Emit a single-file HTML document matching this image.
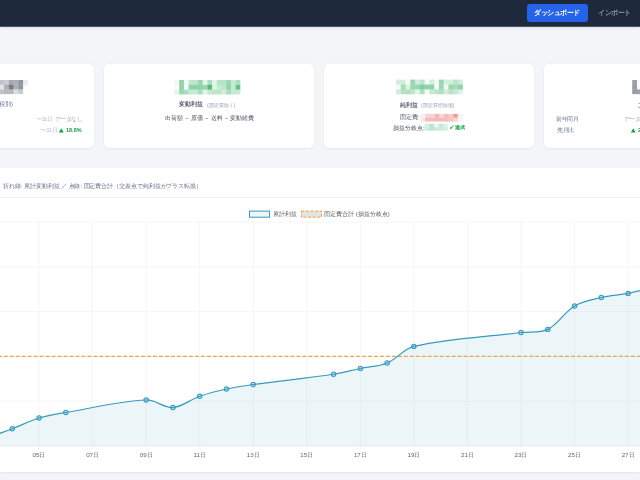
<!DOCTYPE html>
<html lang="ja"><head><meta charset="utf-8">
<style>
*{box-sizing:border-box;margin:0;padding:0}
html,body{width:640px;height:480px;overflow:hidden}
body{background:#f4f5f9;font-family:"Liberation Sans",sans-serif;position:relative;color:#475569}
.a{position:absolute;white-space:nowrap;line-height:1;will-change:transform}
#hdr{position:absolute;left:0;top:0;width:640px;height:26px;background:#1e293b;box-shadow:0 1px 0 rgba(30,41,59,.75),0 2px 2px rgba(15,23,42,.10)}
#btn{position:absolute;left:527px;top:4px;width:61px;height:18px;background:#2563eb;border-radius:3px}
.card{position:absolute;top:63.5px;width:210px;height:84px;background:#fff;border-radius:5px;box-shadow:0 .5px 2px rgba(15,23,42,.07)}
.sep{font-weight:normal;margin:0 2.3px}
.tri{position:absolute;width:0;height:0;border-left:2.45px solid transparent;border-right:2.45px solid transparent;border-bottom:4.4px solid #16a34a}
#chart{position:absolute;left:0;top:167.5px;width:640px;border-radius:0 !important;height:304.5px;background:#fff;border-radius:5px;box-shadow:0 .5px 2px rgba(15,23,42,.07)}
#cdiv{position:absolute;left:0;top:197px;width:640px;height:1px;background:#eef0f4}
svg{position:absolute;left:0;top:0}
#root{position:absolute;left:0;top:0;width:640px;height:480px;overflow:hidden}
#ch text{will-change:transform}
</style></head><body>
<div id="root">
<div id="hdr"><div id="btn"></div></div>
<span class="a" style="left:533.8px;top:9.8px;font-size:6.5px;color:#fff;font-weight:bold;letter-spacing:-.45px">ダッシュボード</span>
<span class="a" style="left:597.8px;top:9.8px;font-size:6.5px;color:#8a94a6;font-weight:bold;letter-spacing:-.4px">インポート</span>
<div class="card" style="left:0;width:94px;border-radius:0 5px 5px 0"></div>
<div class="card" style="left:104px"></div>
<div class="card" style="left:324px"></div>
<div class="card" style="left:544px;width:96px;border-radius:5px 0 0 5px"></div>
<div id="chart"></div>
<div id="cdiv"></div>
<svg id="mos" width="640" height="480">
<rect x="-0.70" y="80.00" width="4.77" height="4.72" fill="#273244" fill-opacity="0.297"/>
<rect x="4.05" y="80.00" width="4.77" height="4.72" fill="#273244" fill-opacity="0.255"/>
<rect x="8.80" y="80.00" width="4.77" height="4.72" fill="#273244" fill-opacity="0.425"/>
<rect x="13.55" y="80.00" width="4.77" height="4.72" fill="#273244" fill-opacity="0.383"/>
<rect x="18.30" y="80.00" width="4.77" height="4.72" fill="#273244" fill-opacity="0.510"/>
<rect x="23.05" y="80.00" width="4.77" height="4.72" fill="#273244" fill-opacity="0.102"/>
<rect x="-0.70" y="84.70" width="4.77" height="4.72" fill="#273244" fill-opacity="0.128"/>
<rect x="4.05" y="84.70" width="4.77" height="4.72" fill="#273244" fill-opacity="0.383"/>
<rect x="8.80" y="84.70" width="4.77" height="4.72" fill="#273244" fill-opacity="0.637"/>
<rect x="13.55" y="84.70" width="4.77" height="4.72" fill="#273244" fill-opacity="0.383"/>
<rect x="18.30" y="84.70" width="4.77" height="4.72" fill="#273244" fill-opacity="0.510"/>
<rect x="23.05" y="84.70" width="4.77" height="4.72" fill="#273244" fill-opacity="0.025"/>
<rect x="-0.70" y="89.40" width="4.77" height="4.72" fill="#273244" fill-opacity="0.297"/>
<rect x="4.05" y="89.40" width="4.77" height="4.72" fill="#273244" fill-opacity="0.340"/>
<rect x="8.80" y="89.40" width="4.77" height="4.72" fill="#273244" fill-opacity="0.340"/>
<rect x="13.55" y="89.40" width="4.77" height="4.72" fill="#273244" fill-opacity="0.170"/>
<rect x="18.30" y="89.40" width="4.77" height="4.72" fill="#273244" fill-opacity="0.255"/>
<rect x="174.50" y="80.00" width="4.72" height="4.85" fill="#16a34a" fill-opacity="0.072"/>
<rect x="179.20" y="80.00" width="4.72" height="4.85" fill="#16a34a" fill-opacity="0.480"/>
<rect x="183.90" y="80.00" width="4.72" height="4.85" fill="#16a34a" fill-opacity="0.072"/>
<rect x="188.60" y="80.00" width="4.72" height="4.85" fill="#16a34a" fill-opacity="0.288"/>
<rect x="193.30" y="80.00" width="4.72" height="4.85" fill="#16a34a" fill-opacity="0.288"/>
<rect x="198.00" y="80.00" width="4.72" height="4.85" fill="#16a34a" fill-opacity="0.432"/>
<rect x="202.70" y="80.00" width="4.72" height="4.85" fill="#16a34a" fill-opacity="0.120"/>
<rect x="207.40" y="80.00" width="4.72" height="4.85" fill="#16a34a" fill-opacity="0.360"/>
<rect x="212.10" y="80.00" width="4.72" height="4.85" fill="#16a34a" fill-opacity="0.120"/>
<rect x="216.80" y="80.00" width="4.72" height="4.85" fill="#16a34a" fill-opacity="0.312"/>
<rect x="221.50" y="80.00" width="4.72" height="4.85" fill="#16a34a" fill-opacity="0.312"/>
<rect x="226.20" y="80.00" width="4.72" height="4.85" fill="#16a34a" fill-opacity="0.432"/>
<rect x="230.90" y="80.00" width="4.72" height="4.85" fill="#16a34a" fill-opacity="0.240"/>
<rect x="235.60" y="80.00" width="4.72" height="4.85" fill="#16a34a" fill-opacity="0.360"/>
<rect x="174.50" y="84.83" width="4.72" height="4.85" fill="#16a34a" fill-opacity="0.024"/>
<rect x="179.20" y="84.83" width="4.72" height="4.85" fill="#16a34a" fill-opacity="0.480"/>
<rect x="183.90" y="84.83" width="4.72" height="4.85" fill="#16a34a" fill-opacity="0.048"/>
<rect x="188.60" y="84.83" width="4.72" height="4.85" fill="#16a34a" fill-opacity="0.480"/>
<rect x="193.30" y="84.83" width="4.72" height="4.85" fill="#16a34a" fill-opacity="0.480"/>
<rect x="198.00" y="84.83" width="4.72" height="4.85" fill="#16a34a" fill-opacity="0.480"/>
<rect x="202.70" y="84.83" width="4.72" height="4.85" fill="#16a34a" fill-opacity="0.432"/>
<rect x="207.40" y="84.83" width="4.72" height="4.85" fill="#16a34a" fill-opacity="0.720"/>
<rect x="212.10" y="84.83" width="4.72" height="4.85" fill="#16a34a" fill-opacity="0.120"/>
<rect x="216.80" y="84.83" width="4.72" height="4.85" fill="#16a34a" fill-opacity="0.240"/>
<rect x="221.50" y="84.83" width="4.72" height="4.85" fill="#16a34a" fill-opacity="0.288"/>
<rect x="226.20" y="84.83" width="4.72" height="4.85" fill="#16a34a" fill-opacity="0.480"/>
<rect x="230.90" y="84.83" width="4.72" height="4.85" fill="#16a34a" fill-opacity="0.240"/>
<rect x="235.60" y="84.83" width="4.72" height="4.85" fill="#16a34a" fill-opacity="0.672"/>
<rect x="174.50" y="89.66" width="4.72" height="4.85" fill="#16a34a" fill-opacity="0.120"/>
<rect x="179.20" y="89.66" width="4.72" height="4.85" fill="#16a34a" fill-opacity="0.432"/>
<rect x="183.90" y="89.66" width="4.72" height="4.85" fill="#16a34a" fill-opacity="0.360"/>
<rect x="188.60" y="89.66" width="4.72" height="4.85" fill="#16a34a" fill-opacity="0.240"/>
<rect x="193.30" y="89.66" width="4.72" height="4.85" fill="#16a34a" fill-opacity="0.240"/>
<rect x="198.00" y="89.66" width="4.72" height="4.85" fill="#16a34a" fill-opacity="0.360"/>
<rect x="202.70" y="89.66" width="4.72" height="4.85" fill="#16a34a" fill-opacity="0.120"/>
<rect x="207.40" y="89.66" width="4.72" height="4.85" fill="#16a34a" fill-opacity="0.240"/>
<rect x="212.10" y="89.66" width="4.72" height="4.85" fill="#16a34a" fill-opacity="0.288"/>
<rect x="216.80" y="89.66" width="4.72" height="4.85" fill="#16a34a" fill-opacity="0.288"/>
<rect x="221.50" y="89.66" width="4.72" height="4.85" fill="#16a34a" fill-opacity="0.192"/>
<rect x="226.20" y="89.66" width="4.72" height="4.85" fill="#16a34a" fill-opacity="0.360"/>
<rect x="230.90" y="89.66" width="4.72" height="4.85" fill="#16a34a" fill-opacity="0.240"/>
<rect x="235.60" y="89.66" width="4.72" height="4.85" fill="#16a34a" fill-opacity="0.240"/>
<rect x="396.00" y="79.60" width="4.79" height="4.92" fill="#16a34a" fill-opacity="0.192"/>
<rect x="400.77" y="79.60" width="4.79" height="4.92" fill="#16a34a" fill-opacity="0.192"/>
<rect x="405.54" y="79.60" width="4.79" height="4.92" fill="#16a34a" fill-opacity="0.048"/>
<rect x="410.31" y="79.60" width="4.79" height="4.92" fill="#16a34a" fill-opacity="0.432"/>
<rect x="415.08" y="79.60" width="4.79" height="4.92" fill="#16a34a" fill-opacity="0.192"/>
<rect x="419.85" y="79.60" width="4.79" height="4.92" fill="#16a34a" fill-opacity="0.288"/>
<rect x="424.62" y="79.60" width="4.79" height="4.92" fill="#16a34a" fill-opacity="0.048"/>
<rect x="429.39" y="79.60" width="4.79" height="4.92" fill="#16a34a" fill-opacity="0.192"/>
<rect x="434.16" y="79.60" width="4.79" height="4.92" fill="#16a34a" fill-opacity="0.072"/>
<rect x="438.93" y="79.60" width="4.79" height="4.92" fill="#16a34a" fill-opacity="0.432"/>
<rect x="443.70" y="79.60" width="4.79" height="4.92" fill="#16a34a" fill-opacity="0.192"/>
<rect x="448.47" y="79.60" width="4.79" height="4.92" fill="#16a34a" fill-opacity="0.192"/>
<rect x="453.24" y="79.60" width="4.79" height="4.92" fill="#16a34a" fill-opacity="0.288"/>
<rect x="458.01" y="79.60" width="4.79" height="4.92" fill="#16a34a" fill-opacity="0.192"/>
<rect x="396.00" y="84.50" width="4.79" height="4.92" fill="#16a34a" fill-opacity="0.048"/>
<rect x="400.77" y="84.50" width="4.79" height="4.92" fill="#16a34a" fill-opacity="0.384"/>
<rect x="405.54" y="84.50" width="4.79" height="4.92" fill="#16a34a" fill-opacity="0.144"/>
<rect x="410.31" y="84.50" width="4.79" height="4.92" fill="#16a34a" fill-opacity="0.432"/>
<rect x="415.08" y="84.50" width="4.79" height="4.92" fill="#16a34a" fill-opacity="0.432"/>
<rect x="419.85" y="84.50" width="4.79" height="4.92" fill="#16a34a" fill-opacity="0.528"/>
<rect x="424.62" y="84.50" width="4.79" height="4.92" fill="#16a34a" fill-opacity="0.480"/>
<rect x="429.39" y="84.50" width="4.79" height="4.92" fill="#16a34a" fill-opacity="0.480"/>
<rect x="434.16" y="84.50" width="4.79" height="4.92" fill="#16a34a" fill-opacity="0.048"/>
<rect x="438.93" y="84.50" width="4.79" height="4.92" fill="#16a34a" fill-opacity="0.432"/>
<rect x="443.70" y="84.50" width="4.79" height="4.92" fill="#16a34a" fill-opacity="0.072"/>
<rect x="448.47" y="84.50" width="4.79" height="4.92" fill="#16a34a" fill-opacity="0.432"/>
<rect x="453.24" y="84.50" width="4.79" height="4.92" fill="#16a34a" fill-opacity="0.384"/>
<rect x="458.01" y="84.50" width="4.79" height="4.92" fill="#16a34a" fill-opacity="0.480"/>
<rect x="396.00" y="89.40" width="4.79" height="4.92" fill="#16a34a" fill-opacity="0.192"/>
<rect x="400.77" y="89.40" width="4.79" height="4.92" fill="#16a34a" fill-opacity="0.336"/>
<rect x="405.54" y="89.40" width="4.79" height="4.92" fill="#16a34a" fill-opacity="0.336"/>
<rect x="410.31" y="89.40" width="4.79" height="4.92" fill="#16a34a" fill-opacity="0.288"/>
<rect x="415.08" y="89.40" width="4.79" height="4.92" fill="#16a34a" fill-opacity="0.120"/>
<rect x="419.85" y="89.40" width="4.79" height="4.92" fill="#16a34a" fill-opacity="0.336"/>
<rect x="424.62" y="89.40" width="4.79" height="4.92" fill="#16a34a" fill-opacity="0.048"/>
<rect x="429.39" y="89.40" width="4.79" height="4.92" fill="#16a34a" fill-opacity="0.240"/>
<rect x="434.16" y="89.40" width="4.79" height="4.92" fill="#16a34a" fill-opacity="0.288"/>
<rect x="438.93" y="89.40" width="4.79" height="4.92" fill="#16a34a" fill-opacity="0.336"/>
<rect x="443.70" y="89.40" width="4.79" height="4.92" fill="#16a34a" fill-opacity="0.192"/>
<rect x="448.47" y="89.40" width="4.79" height="4.92" fill="#16a34a" fill-opacity="0.312"/>
<rect x="453.24" y="89.40" width="4.79" height="4.92" fill="#16a34a" fill-opacity="0.240"/>
<rect x="458.01" y="89.40" width="4.79" height="4.92" fill="#16a34a" fill-opacity="0.144"/>
<rect x="420.60" y="113.90" width="4.67" height="3.87" fill="#dc2626" fill-opacity="0.075"/>
<rect x="425.25" y="113.90" width="4.67" height="3.87" fill="#dc2626" fill-opacity="0.200"/>
<rect x="429.90" y="113.90" width="4.67" height="3.87" fill="#dc2626" fill-opacity="0.200"/>
<rect x="434.55" y="113.90" width="4.67" height="3.87" fill="#dc2626" fill-opacity="0.325"/>
<rect x="439.20" y="113.90" width="4.67" height="3.87" fill="#dc2626" fill-opacity="0.175"/>
<rect x="443.85" y="113.90" width="4.67" height="3.87" fill="#dc2626" fill-opacity="0.300"/>
<rect x="448.50" y="113.90" width="4.67" height="3.87" fill="#dc2626" fill-opacity="0.225"/>
<rect x="453.15" y="113.90" width="4.67" height="3.87" fill="#dc2626" fill-opacity="0.450"/>
<rect x="457.80" y="113.90" width="4.67" height="3.87" fill="#dc2626" fill-opacity="0.075"/>
<rect x="420.60" y="117.75" width="4.67" height="3.87" fill="#dc2626" fill-opacity="0.125"/>
<rect x="425.25" y="117.75" width="4.67" height="3.87" fill="#dc2626" fill-opacity="0.300"/>
<rect x="429.90" y="117.75" width="4.67" height="3.87" fill="#dc2626" fill-opacity="0.300"/>
<rect x="434.55" y="117.75" width="4.67" height="3.87" fill="#dc2626" fill-opacity="0.325"/>
<rect x="439.20" y="117.75" width="4.67" height="3.87" fill="#dc2626" fill-opacity="0.300"/>
<rect x="443.85" y="117.75" width="4.67" height="3.87" fill="#dc2626" fill-opacity="0.300"/>
<rect x="448.50" y="117.75" width="4.67" height="3.87" fill="#dc2626" fill-opacity="0.275"/>
<rect x="453.15" y="117.75" width="4.67" height="3.87" fill="#dc2626" fill-opacity="0.200"/>
<rect x="457.80" y="117.75" width="4.67" height="3.87" fill="#dc2626" fill-opacity="0.050"/>
<rect x="424.50" y="123.70" width="4.72" height="3.47" fill="#16a34a" fill-opacity="0.176"/>
<rect x="429.20" y="123.70" width="4.72" height="3.47" fill="#16a34a" fill-opacity="0.286"/>
<rect x="433.90" y="123.70" width="4.72" height="3.47" fill="#16a34a" fill-opacity="0.088"/>
<rect x="438.60" y="123.70" width="4.72" height="3.47" fill="#16a34a" fill-opacity="0.264"/>
<rect x="443.30" y="123.70" width="4.72" height="3.47" fill="#16a34a" fill-opacity="0.132"/>
<rect x="424.50" y="127.15" width="4.72" height="3.47" fill="#16a34a" fill-opacity="0.198"/>
<rect x="429.20" y="127.15" width="4.72" height="3.47" fill="#16a34a" fill-opacity="0.286"/>
<rect x="433.90" y="127.15" width="4.72" height="3.47" fill="#16a34a" fill-opacity="0.220"/>
<rect x="438.60" y="127.15" width="4.72" height="3.47" fill="#16a34a" fill-opacity="0.220"/>
<rect x="443.30" y="127.15" width="4.72" height="3.47" fill="#16a34a" fill-opacity="0.176"/>
<rect x="632.20" y="80.00" width="4.82" height="4.72" fill="#273244" fill-opacity="0.468"/>
<rect x="637.00" y="80.00" width="4.82" height="4.72" fill="#273244" fill-opacity="0.025"/>
<rect x="632.20" y="84.70" width="4.82" height="4.72" fill="#273244" fill-opacity="0.484"/>
<rect x="637.00" y="84.70" width="4.82" height="4.72" fill="#273244" fill-opacity="0.025"/>
<rect x="632.20" y="89.40" width="4.82" height="4.72" fill="#273244" fill-opacity="0.484"/>
<rect x="637.00" y="89.40" width="4.82" height="4.72" fill="#273244" fill-opacity="0.442"/>
</svg>
<svg id="ch" width="640" height="480" font-size="6.2" fill="#666">
<line x1="0" x2="640" y1="222.00" y2="222.00" stroke="#f5f6f8" stroke-width="1"/>
<line x1="0" x2="640" y1="266.80" y2="266.80" stroke="#f5f6f8" stroke-width="1"/>
<line x1="0" x2="640" y1="311.60" y2="311.60" stroke="#f5f6f8" stroke-width="1"/>
<line x1="0" x2="640" y1="356.40" y2="356.40" stroke="#f5f6f8" stroke-width="1"/>
<line x1="0" x2="640" y1="401.20" y2="401.20" stroke="#f5f6f8" stroke-width="1"/>
<line x1="39.05" x2="39.05" y1="222" y2="449" stroke="#f5f6f8" stroke-width="1"/>
<line x1="92.60" x2="92.60" y1="222" y2="449" stroke="#f5f6f8" stroke-width="1"/>
<line x1="146.15" x2="146.15" y1="222" y2="449" stroke="#f5f6f8" stroke-width="1"/>
<line x1="199.70" x2="199.70" y1="222" y2="449" stroke="#f5f6f8" stroke-width="1"/>
<line x1="253.25" x2="253.25" y1="222" y2="449" stroke="#f5f6f8" stroke-width="1"/>
<line x1="306.80" x2="306.80" y1="222" y2="449" stroke="#f5f6f8" stroke-width="1"/>
<line x1="360.35" x2="360.35" y1="222" y2="449" stroke="#f5f6f8" stroke-width="1"/>
<line x1="413.90" x2="413.90" y1="222" y2="449" stroke="#f5f6f8" stroke-width="1"/>
<line x1="467.45" x2="467.45" y1="222" y2="449" stroke="#f5f6f8" stroke-width="1"/>
<line x1="521.00" x2="521.00" y1="222" y2="449" stroke="#f5f6f8" stroke-width="1"/>
<line x1="574.55" x2="574.55" y1="222" y2="449" stroke="#f5f6f8" stroke-width="1"/>
<line x1="628.10" x2="628.10" y1="222" y2="449" stroke="#f5f6f8" stroke-width="1"/>
<path d="M-14.50 438.50 C-5.13 435.09 2.96 432.32 12.27 428.75 C21.70 425.14 29.43 420.92 39.05 418.00 C48.17 415.23 56.39 414.09 65.82 412.50 C93.88 407.79 118.22 401.30 146.15 400.00 C155.70 399.55 163.76 408.14 172.93 407.50 C182.50 406.83 190.11 399.56 199.70 396.25 C208.86 393.09 217.00 391.08 226.47 389.00 C235.75 386.97 243.84 385.80 253.25 384.50 C281.32 380.63 305.56 378.43 333.57 374.25 C343.05 372.83 350.97 370.47 360.35 368.50 C369.71 366.53 378.42 366.59 387.12 363.00 C397.16 358.86 403.32 348.81 413.90 346.40 C450.17 338.14 483.50 337.26 521.00 332.50 C530.36 331.31 539.69 333.40 547.77 329.40 C558.44 324.12 564.08 312.24 574.55 306.00 C582.82 301.07 591.78 299.75 601.32 297.50 C610.53 295.34 618.80 295.22 628.10 293.40 C637.55 291.55 645.50 289.24 654.87 287.00 L654.87 446 L-14.50 446 Z" fill="#379bbd" fill-opacity="0.095"/>
<line x1="0" x2="640" y1="446" y2="446" stroke="#e6e9ee" stroke-width="1"/>
<line x1="0" x2="640" y1="356.4" y2="356.4" stroke="#eca847" stroke-width="1.3" stroke-dasharray="4.1 1.871" stroke-dashoffset="2.221"/>
<path d="M-14.50 438.50 C-5.13 435.09 2.96 432.32 12.27 428.75 C21.70 425.14 29.43 420.92 39.05 418.00 C48.17 415.23 56.39 414.09 65.82 412.50 C93.88 407.79 118.22 401.30 146.15 400.00 C155.70 399.55 163.76 408.14 172.93 407.50 C182.50 406.83 190.11 399.56 199.70 396.25 C208.86 393.09 217.00 391.08 226.47 389.00 C235.75 386.97 243.84 385.80 253.25 384.50 C281.32 380.63 305.56 378.43 333.57 374.25 C343.05 372.83 350.97 370.47 360.35 368.50 C369.71 366.53 378.42 366.59 387.12 363.00 C397.16 358.86 403.32 348.81 413.90 346.40 C450.17 338.14 483.50 337.26 521.00 332.50 C530.36 331.31 539.69 333.40 547.77 329.40 C558.44 324.12 564.08 312.24 574.55 306.00 C582.82 301.07 591.78 299.75 601.32 297.50 C610.53 295.34 618.80 295.22 628.10 293.40 C637.55 291.55 645.50 289.24 654.87 287.00" fill="none" stroke="#379bbd" stroke-width="1.25"/>
<circle cx="-14.50" cy="438.50" r="2.2" fill="#379bbd" fill-opacity="0.3" stroke="#379bbd" stroke-width="1.05"/>
<circle cx="12.27" cy="428.75" r="2.2" fill="#379bbd" fill-opacity="0.3" stroke="#379bbd" stroke-width="1.05"/>
<circle cx="39.05" cy="418.00" r="2.2" fill="#379bbd" fill-opacity="0.3" stroke="#379bbd" stroke-width="1.05"/>
<circle cx="65.82" cy="412.50" r="2.2" fill="#379bbd" fill-opacity="0.3" stroke="#379bbd" stroke-width="1.05"/>
<circle cx="146.15" cy="400.00" r="2.2" fill="#379bbd" fill-opacity="0.3" stroke="#379bbd" stroke-width="1.05"/>
<circle cx="172.93" cy="407.50" r="2.2" fill="#379bbd" fill-opacity="0.3" stroke="#379bbd" stroke-width="1.05"/>
<circle cx="199.70" cy="396.25" r="2.2" fill="#379bbd" fill-opacity="0.3" stroke="#379bbd" stroke-width="1.05"/>
<circle cx="226.47" cy="389.00" r="2.2" fill="#379bbd" fill-opacity="0.3" stroke="#379bbd" stroke-width="1.05"/>
<circle cx="253.25" cy="384.50" r="2.2" fill="#379bbd" fill-opacity="0.3" stroke="#379bbd" stroke-width="1.05"/>
<circle cx="333.57" cy="374.25" r="2.2" fill="#379bbd" fill-opacity="0.3" stroke="#379bbd" stroke-width="1.05"/>
<circle cx="360.35" cy="368.50" r="2.2" fill="#379bbd" fill-opacity="0.3" stroke="#379bbd" stroke-width="1.05"/>
<circle cx="387.12" cy="363.00" r="2.2" fill="#379bbd" fill-opacity="0.3" stroke="#379bbd" stroke-width="1.05"/>
<circle cx="413.90" cy="346.40" r="2.2" fill="#379bbd" fill-opacity="0.3" stroke="#379bbd" stroke-width="1.05"/>
<circle cx="521.00" cy="332.50" r="2.2" fill="#379bbd" fill-opacity="0.3" stroke="#379bbd" stroke-width="1.05"/>
<circle cx="547.77" cy="329.40" r="2.2" fill="#379bbd" fill-opacity="0.3" stroke="#379bbd" stroke-width="1.05"/>
<circle cx="574.55" cy="306.00" r="2.2" fill="#379bbd" fill-opacity="0.3" stroke="#379bbd" stroke-width="1.05"/>
<circle cx="601.32" cy="297.50" r="2.2" fill="#379bbd" fill-opacity="0.3" stroke="#379bbd" stroke-width="1.05"/>
<circle cx="628.10" cy="293.40" r="2.2" fill="#379bbd" fill-opacity="0.3" stroke="#379bbd" stroke-width="1.05"/>
<circle cx="654.87" cy="287.00" r="2.2" fill="#379bbd" fill-opacity="0.3" stroke="#379bbd" stroke-width="1.05"/>
<text x="39.05" y="457.3" text-anchor="middle">05日</text>
<text x="92.60" y="457.3" text-anchor="middle">07日</text>
<text x="146.15" y="457.3" text-anchor="middle">09日</text>
<text x="199.70" y="457.3" text-anchor="middle">11日</text>
<text x="253.25" y="457.3" text-anchor="middle">13日</text>
<text x="306.80" y="457.3" text-anchor="middle">15日</text>
<text x="360.35" y="457.3" text-anchor="middle">17日</text>
<text x="413.90" y="457.3" text-anchor="middle">19日</text>
<text x="467.45" y="457.3" text-anchor="middle">21日</text>
<text x="521.00" y="457.3" text-anchor="middle">23日</text>
<text x="574.55" y="457.3" text-anchor="middle">25日</text>
<text x="628.10" y="457.3" text-anchor="middle">27日</text>
<rect x="249.5" y="211.1" width="20" height="6.1" fill="#ecf5f8" stroke="#379bbd" stroke-width="1"/>
<rect x="301.3" y="211.1" width="20.2" height="6.1" fill="#e3e3e3" stroke="#eea23c" stroke-width="1" stroke-dasharray="3 1.6"/>
<polygon points="58.80,132.50 63.70,132.50 61.25,128.20" fill="#16a34a"/>
<polygon points="630.80,132.50 635.70,132.50 633.25,128.20" fill="#16a34a"/>
</svg>
<span class="a" style="left:-3.30px;top:101.40px;font-size:6.00px;color:#64748b;">(税別)</span>
<span class="a" style="left:36.00px;top:117.10px;font-size:5.50px;color:#b9c0cb;letter-spacing:-.35px">〜31日</span>
<span class="a" style="left:54.60px;top:117.10px;font-size:5.50px;color:#a3abb8;letter-spacing:-.55px">データなし</span>
<span class="a" style="left:40.20px;top:128.20px;font-size:5.50px;color:#b9c0cb;">〜31日</span>
<span class="a" style="left:65.80px;top:127.90px;font-size:5.50px;color:#16a34a;font-weight:bold">18.8%</span>
<span class="a" style="left:178.80px;top:101.40px;font-size:6.00px;color:#3f4a5c;-webkit-text-stroke:.1px #3f4a5c">変動利益</span>
<span class="a" style="left:206.80px;top:102.60px;font-size:5.00px;color:#94a3b8;">(固定費除く)</span>
<span class="a" style="left:165.00px;top:115.50px;font-size:5.80px;color:#4b5563;letter-spacing:-.05px">出荷額<b class="sep">−</b>原価<b class="sep">−</b>送料<b class="sep">−</b>変動経費</span>
<span class="a" style="left:399.80px;top:102.00px;font-size:6.00px;color:#3f4a5c;-webkit-text-stroke:.1px #3f4a5c">純利益</span>
<span class="a" style="left:421.40px;top:102.60px;font-size:5.00px;color:#94a3b8;">(固定費控除後)</span>
<span class="a" style="left:400.30px;top:114.40px;font-size:6.00px;color:#4b5563;">固定費:</span>
<span class="a" style="left:393.30px;top:124.50px;font-size:6.00px;color:#4b5563;">損益分岐点:</span>
<span class="a" style="left:449.00px;top:125.20px;font-size:5.20px;color:#16a34a;-webkit-text-stroke:.25px #16a34a">✓</span>
<span class="a" style="left:454.60px;top:125.20px;font-size:5.20px;color:#16a34a;-webkit-text-stroke:.15px #16a34a">達成</span>
<span class="a" style="left:637.40px;top:102.00px;font-size:6.00px;color:#475569;">こ</span>
<span class="a" style="left:556.30px;top:116.80px;font-size:5.50px;color:#64748b;letter-spacing:-.5px">前年同月</span>
<span class="a" style="left:556.50px;top:127.80px;font-size:5.50px;color:#64748b;letter-spacing:-.5px">先月比</span>
<span class="a" style="left:624.40px;top:117.10px;font-size:5.50px;color:#a3abb8;letter-spacing:-.55px">データなし</span>
<span class="a" style="left:637.60px;top:127.90px;font-size:5.50px;color:#16a34a;font-weight:bold">25.0%</span>
<span class="a" style="left:3.00px;top:183.30px;font-size:6.00px;color:#64748b;letter-spacing:-.08px">折れ線: 累計変動利益 ／ 点線: 固定費合計（交差点で純利益がプラス転換）</span>
<span class="a" style="left:272.80px;top:210.80px;font-size:6.00px;color:#5c5c5c;">累計利益</span>
<span class="a" style="left:324.40px;top:210.80px;font-size:6.00px;color:#5c5c5c;">固定費合計 (損益分岐点)</span>

</div>
</body></html>
